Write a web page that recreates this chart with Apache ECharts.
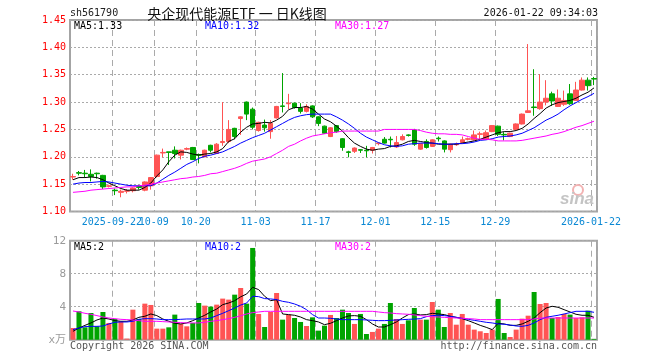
<!DOCTYPE html>
<html><head><meta charset="utf-8">
<script src="https://cdn.jsdelivr.net/npm/echarts@6/dist/echarts.min.js"></script>
<style>html,body{margin:0;padding:0;background:#fff}#c{width:660px;height:360px}</style>
</head><body><div id="c"></div>
<script>
const dates = ['2025-09-11','2025-09-12','2025-09-15','2025-09-16','2025-09-17','2025-09-18','2025-09-19','2025-09-22','2025-09-23','2025-09-24',
'2025-09-25','2025-09-26','2025-09-29','2025-09-30','2025-10-09','2025-10-10','2025-10-13','2025-10-14','2025-10-15','2025-10-16',
'2025-10-17','2025-10-20','2025-10-21','2025-10-22','2025-10-23','2025-10-24','2025-10-27','2025-10-28','2025-10-29','2025-10-30',
'2025-10-31','2025-11-03','2025-11-04','2025-11-05','2025-11-06','2025-11-07','2025-11-10','2025-11-11','2025-11-12','2025-11-13',
'2025-11-14','2025-11-17','2025-11-18','2025-11-19','2025-11-20','2025-11-21','2025-11-24','2025-11-25','2025-11-26','2025-11-27',
'2025-11-28','2025-12-01','2025-12-02','2025-12-03','2025-12-04','2025-12-05','2025-12-08','2025-12-09','2025-12-10','2025-12-11',
'2025-12-12','2025-12-15','2025-12-16','2025-12-17','2025-12-18','2025-12-19','2025-12-22','2025-12-23','2025-12-24','2025-12-25',
'2025-12-26','2025-12-29','2025-12-30','2025-12-31','2026-01-05','2026-01-06','2026-01-07','2026-01-08','2026-01-09','2026-01-12',
'2026-01-13','2026-01-14','2026-01-15','2026-01-16','2026-01-19','2026-01-20','2026-01-21','2026-01-22'];

const tickIndex = [7,14,21,31,41,51,61,71,87];
const tickLabels = ['2025-09-22','10-09','10-20','11-03','11-17','12-01','12-15','12-29','2026-01-22'];

const opens = [1.163,1.171,1.170,1.168,1.170,1.166,1.146,1.139,1.135,1.137,
1.138,1.146,1.139,1.147,1.164,1.207,1.209,1.212,1.203,1.214,
1.217,1.204,1.200,1.221,1.206,1.226,1.228,1.252,1.270,1.300,
1.287,1.248,1.258,1.246,1.271,1.293,1.297,1.298,1.289,1.283,
1.293,1.273,1.256,1.237,1.257,1.233,1.209,1.210,1.213,1.212,
1.212,1.224,1.232,1.232,1.218,1.231,1.240,1.249,1.214,1.228,
1.219,1.234,1.229,1.213,1.222,1.226,1.232,1.231,1.241,1.232,
1.246,1.256,1.241,1.237,1.250,1.260,1.281,1.291,1.288,1.300,
1.315,1.292,1.296,1.315,1.303,1.322,1.340,1.343];
const closes = [1.164,1.170,1.169,1.164,1.169,1.145,1.147,1.138,1.137,1.138,
1.143,1.144,1.154,1.162,1.203,1.208,1.208,1.206,1.212,1.215,
1.195,1.203,1.212,1.212,1.223,1.228,1.250,1.237,1.273,1.278,
1.254,1.263,1.253,1.261,1.292,1.292,1.298,1.290,1.283,1.292,
1.273,1.261,1.243,1.253,1.246,1.217,1.208,1.216,1.212,1.211,
1.217,1.225,1.225,1.231,1.226,1.237,1.239,1.223,1.224,1.217,
1.231,1.233,1.214,1.223,1.223,1.231,1.233,1.240,1.242,1.244,
1.257,1.241,1.240,1.243,1.260,1.278,1.284,1.290,1.300,1.307,
1.302,1.307,1.303,1.297,1.322,1.340,1.330,1.342];
const lows = [1.158,1.166,1.163,1.155,1.160,1.141,1.144,1.130,1.126,1.133,
1.135,1.140,1.137,1.140,1.162,1.199,1.185,1.197,1.195,1.212,
1.194,1.188,1.199,1.208,1.205,1.220,1.225,1.232,1.240,1.267,
1.250,1.246,1.246,1.233,1.270,1.281,1.287,1.288,1.279,1.281,
1.271,1.256,1.242,1.236,1.244,1.211,1.199,1.207,1.207,1.199,
1.206,1.221,1.224,1.217,1.216,1.230,1.237,1.220,1.213,1.215,
1.218,1.228,1.208,1.208,1.220,1.225,1.230,1.230,1.232,1.231,
1.245,1.238,1.230,1.236,1.249,1.259,1.280,1.275,1.286,1.294,
1.293,1.291,1.293,1.295,1.302,1.321,1.321,1.331];
const highs = [1.169,1.174,1.176,1.177,1.171,1.167,1.149,1.142,1.140,1.141,
1.144,1.148,1.155,1.163,1.204,1.215,1.209,1.219,1.213,1.217,
1.218,1.206,1.213,1.222,1.225,1.300,1.267,1.253,1.274,1.301,
1.290,1.264,1.268,1.267,1.293,1.353,1.315,1.299,1.298,1.296,
1.294,1.274,1.257,1.254,1.258,1.234,1.211,1.217,1.214,1.220,
1.218,1.226,1.236,1.237,1.238,1.241,1.241,1.251,1.225,1.232,
1.232,1.237,1.230,1.224,1.226,1.237,1.235,1.248,1.246,1.248,
1.258,1.257,1.245,1.244,1.261,1.279,1.406,1.360,1.351,1.340,
1.319,1.323,1.321,1.333,1.337,1.345,1.345,1.346];

const ma5 = [1.158,1.162,1.162,1.163,1.162,1.158,1.152,1.147,1.142,1.139,
1.139,1.139,1.144,1.152,1.165,1.176,1.191,1.203,1.209,1.208,
1.205,1.203,1.205,1.206,1.209,1.215,1.228,1.233,1.245,1.254,
1.260,1.261,1.263,1.262,1.267,1.274,1.286,1.290,1.290,1.292,
1.287,1.278,1.269,1.264,1.256,1.247,1.235,1.225,1.219,1.214,
1.212,1.214,1.215,1.219,1.220,1.223,1.228,1.230,1.228,1.226,
1.225,1.223,1.223,1.223,1.223,1.225,1.227,1.229,1.232,1.236,
1.240,1.244,1.246,1.246,1.248,1.252,1.260,1.270,1.279,1.289,
1.295,1.299,1.301,1.303,1.307,1.313,1.318,1.326];
const ma10 = [1.150,1.152,1.153,1.153,1.154,1.155,1.154,1.152,1.150,1.148,
1.147,1.147,1.147,1.147,1.152,1.159,1.166,1.172,1.179,1.186,
1.191,1.197,1.201,1.203,1.206,1.209,1.214,1.219,1.225,1.230,
1.235,1.239,1.243,1.249,1.255,1.261,1.267,1.272,1.275,1.277,
1.278,1.278,1.278,1.278,1.273,1.267,1.260,1.252,1.243,1.236,
1.231,1.226,1.222,1.220,1.219,1.220,1.223,1.224,1.225,1.225,
1.225,1.224,1.223,1.223,1.224,1.224,1.225,1.227,1.230,1.231,
1.233,1.236,1.237,1.238,1.240,1.243,1.248,1.253,1.260,1.267,
1.272,1.278,1.286,1.293,1.299,1.305,1.310,1.316];
const ma30 = [1.135,1.136,1.137,1.139,1.140,1.141,1.142,1.143,1.144,1.145,
1.145,1.147,1.148,1.150,1.152,1.154,1.156,1.158,1.160,1.161,
1.163,1.164,1.166,1.169,1.170,1.173,1.176,1.179,1.183,1.188,
1.192,1.194,1.196,1.200,1.206,1.212,1.219,1.223,1.229,1.234,
1.238,1.240,1.242,1.244,1.245,1.247,1.247,1.247,1.247,1.247,
1.247,1.247,1.250,1.250,1.250,1.250,1.250,1.250,1.248,1.245,
1.243,1.242,1.242,1.241,1.241,1.240,1.237,1.234,1.232,1.232,
1.231,1.229,1.229,1.229,1.229,1.230,1.232,1.234,1.236,1.238,
1.241,1.243,1.246,1.250,1.254,1.257,1.261,1.265];

const volumes = [1.42,3.44,1.50,3.24,1.62,3.36,2.03,2.51,2.23,0.13,
3.64,2.51,4.37,4.21,1.34,1.34,1.50,3.04,1.91,1.62,
2.03,4.45,4.13,4.01,4.25,4.98,4.86,5.46,6.27,4.37,
11.12,3.12,1.54,3.36,5.66,2.43,3.04,2.63,2.15,1.66,
2.71,1.10,1.70,3.00,2.63,3.64,3.24,1.91,3.12,0.69,
0.94,1.34,1.91,4.45,2.51,1.91,2.35,3.84,2.43,2.43,
4.57,3.64,1.54,3.24,1.82,3.12,1.82,1.22,1.02,0.81,
1.22,4.94,0.81,0.33,1.22,2.55,2.91,5.78,4.33,4.45,
2.63,2.75,3.12,3.04,2.63,2.71,3.52,0.09];
const volMa5 = [1.02,1.42,1.74,2.03,2.39,2.63,2.51,2.31,2.23,2.23,
2.39,2.71,2.84,3.12,2.92,2.51,2.23,1.99,1.91,2.03,
2.31,2.63,2.96,3.36,3.72,4.25,4.45,4.73,5.20,5.54,
6.35,6.07,5.26,4.73,4.86,3.12,3.04,2.96,2.75,2.43,
2.31,2.15,1.82,1.99,2.31,2.63,2.88,2.92,2.84,2.43,
1.91,1.54,1.54,1.82,2.15,2.63,3.04,3.12,3.00,3.04,
3.20,3.12,3.04,2.84,2.71,2.55,2.31,2.03,1.74,1.50,
1.22,1.99,1.91,1.74,1.74,1.91,2.23,2.63,3.28,3.84,
4.05,3.93,3.64,3.36,3.08,2.96,2.96,2.71];
const volMa10 = [1.22,1.42,1.58,1.62,1.62,1.66,1.91,2.11,2.15,2.15,
2.23,2.47,2.55,2.55,2.51,2.43,2.43,2.43,2.47,2.51,
2.51,2.51,2.51,2.63,2.92,3.20,3.52,3.84,4.20,4.45,
5.26,5.22,4.98,4.94,4.86,4.65,4.53,4.33,4.05,3.64,
3.04,2.63,2.63,2.59,2.51,2.43,2.43,2.43,2.43,2.39,
2.35,2.31,2.31,2.35,2.39,2.43,2.47,2.50,2.55,2.79,
2.92,2.96,2.92,2.84,2.71,2.59,2.47,2.35,2.23,2.11,
2.03,1.91,1.87,1.78,1.66,1.62,1.74,2.03,2.43,2.71,
2.84,2.96,3.12,3.28,3.44,3.44,3.44,3.32];
const volMa30 = [3.48,3.36,3.20,3.08,2.92,2.75,2.63,2.55,2.47,2.43,
2.39,2.31,2.23,2.23,2.23,2.19,2.15,2.11,2.07,2.03,
2.03,2.03,2.11,2.23,2.31,2.43,2.55,2.71,2.90,3.12,
3.28,3.36,3.44,3.44,3.44,3.44,3.44,3.44,3.44,3.44,
3.44,3.44,3.44,3.44,3.44,3.44,3.44,3.44,3.44,3.44,
3.44,3.36,3.28,3.24,3.16,3.12,3.08,3.00,2.92,2.84,
2.79,2.75,2.71,2.67,2.63,2.59,2.55,2.51,2.43,2.43,
2.43,2.43,2.43,2.43,2.43,2.43,2.43,2.51,2.63,2.63,
2.63,2.63,2.63,2.63,2.63,2.63,2.63,2.63];

const UP = '#ff5454', DOWN = '#00a400';
const MONO = '"DejaVu Sans Mono", "Noto Sans CJK SC", monospace';
const candles = dates.map((d, i) => [opens[i], closes[i], lows[i], highs[i]]);
const showTick = (i) => tickIndex.indexOf(i) >= 0;

const gridL = 70, gridW = 527;
const chart = echarts.init(document.getElementById('c'), null, {renderer: 'canvas'});

const xBase = (gi, showLabel) => ({
  type: 'category', gridIndex: gi, data: dates, boundaryGap: true,
  axisLine: {show: false}, axisTick: {show: false},
  axisLabel: {
    show: showLabel, interval: (i) => i === 0 || showTick(i), hideOverlap: false,
    formatter: (v, i) => showTick(i) ? tickLabels[tickIndex.indexOf(i)] : '',
    color: '#0a88d4', fontFamily: MONO, fontSize: 10, margin: 6, padding: [0, 6, 0, 0]
  },
  splitLine: {show: true, interval: (i) => showTick(i), lineStyle: {color: '#aaa', type: [6, 4], width: 1}}
});

const lineS = (name, data, color, xi, yi) => ({
  type: 'line', name, data, xAxisIndex: xi, yAxisIndex: yi, symbol: 'none',
  lineStyle: {color, width: 1}, itemStyle: {color}, silent: true, z: 3
});

chart.setOption({
  animation: false,
  backgroundColor: '#fff',
  grid: [
    {left: gridL, top: 20, width: gridW, height: 191.5, show: true, borderColor: '#a4a4a4', borderWidth: 2, backgroundColor: 'rgba(0,0,0,0)'},
    {left: gridL, top: 240.7, width: gridW, height: 99, show: true, borderColor: '#a4a4a4', borderWidth: 2, backgroundColor: 'rgba(0,0,0,0)'}
  ],
  xAxis: [xBase(0, true), xBase(1, false)],
  yAxis: [
    {type: 'value', gridIndex: 0, min: 1.1, max: 1.45, interval: 0.05, scale: true,
     axisLine: {show: false}, axisTick: {show: false},
     axisLabel: {color: '#ff0000', fontFamily: MONO, fontSize: 10, margin: 4, formatter: (v) => v.toFixed(2)},
     splitLine: {show: true, lineStyle: {color: '#aaa', type: [2, 2], width: 1}}},
    {type: 'value', gridIndex: 1, min: 0, max: 12, interval: 4,
     axisLine: {show: false}, axisTick: {show: false},
     axisLabel: {color: '#9a9a9a', fontFamily: MONO, fontSize: 11, margin: 4, formatter: (v) => v === 0 ? 'x万' : String(v)},
     splitLine: {show: true, lineStyle: {color: '#aaa', type: [2, 2], width: 1}}}
  ],
  series: [
    {type: 'candlestick', xAxisIndex: 0, yAxisIndex: 0, data: candles, barWidth: 5,
     itemStyle: {color: UP, color0: DOWN, borderColor: UP, borderColor0: DOWN, borderWidth: 1}, z: 2},
    lineS('MA5', ma5, '#000000', 0, 0),
    lineS('MA10', ma10, '#0000ff', 0, 0),
    lineS('MA30', ma30, '#ff00ff', 0, 0),
    {type: 'bar', xAxisIndex: 1, yAxisIndex: 1, data: volumes, barWidth: 5,
     itemStyle: {color: (p) => closes[p.dataIndex] > opens[p.dataIndex] ? UP : DOWN}, z: 2},
    lineS('VMA5', volMa5, '#000000', 1, 1),
    lineS('VMA10', volMa10, '#0000ff', 1, 1),
    lineS('VMA30', volMa30, '#ff00ff', 1, 1)
  ],
  graphic: [
    {type: 'text', left: 70, top: 8, style: {text: 'sh561790', fill: '#222', font: '10px ' + MONO}},
    {type: 'text', x: 237, y: 14, style: {text: '央企现代能源ETF 一 日K线图', fill: '#111', font: '14px "Noto Sans CJK SC"', textAlign: 'center', textVerticalAlign: 'middle'}},
    {type: 'text', x: 598, y: 13, style: {text: '2026-01-22 09:34:03', fill: '#111', font: '10px ' + MONO, textAlign: 'right', textVerticalAlign: 'middle'}},
    {type: 'text', x: 74, y: 26, style: {text: 'MA5:1.33', fill: '#000', font: '10px ' + MONO, textVerticalAlign: 'middle'}, z: 10},
    {type: 'text', x: 205, y: 26, style: {text: 'MA10:1.32', fill: '#0000ff', font: '10px ' + MONO, textVerticalAlign: 'middle'}, z: 10},
    {type: 'text', x: 335, y: 26, style: {text: 'MA30:1.27', fill: '#ff00ff', font: '10px ' + MONO, textVerticalAlign: 'middle'}, z: 10},
    {type: 'text', x: 74, y: 247, style: {text: 'MA5:2', fill: '#000', font: '10px ' + MONO, textVerticalAlign: 'middle'}, z: 10},
    {type: 'text', x: 205, y: 247, style: {text: 'MA10:2', fill: '#0000ff', font: '10px ' + MONO, textVerticalAlign: 'middle'}, z: 10},
    {type: 'text', x: 335, y: 247, style: {text: 'MA30:2', fill: '#ff00ff', font: '10px ' + MONO, textVerticalAlign: 'middle'}, z: 10},
    {type: 'text', x: 70, y: 346, style: {text: 'Copyright 2026 SINA.COM', fill: '#555', font: '10px ' + MONO, textVerticalAlign: 'middle'}, z: 10},
    {type: 'text', x: 597, y: 346, style: {text: 'http://finance.sina.com.cn', fill: '#555', font: '10px ' + MONO, textAlign: 'right', textVerticalAlign: 'middle'}, z: 10},
    {type: 'circle', shape: {cx: 578, cy: 190, r: 5}, style: {fill: 'none', stroke: '#f2b2b2', lineWidth: 2}, z: 1},
    {type: 'text', x: 594, y: 199, style: {text: 'sina', fill: '#c4c4c4', font: 'italic bold 17px "Liberation Sans"', textAlign: 'right', textVerticalAlign: 'middle'}, z: 1}
  ]
});
</script>
</body></html>
